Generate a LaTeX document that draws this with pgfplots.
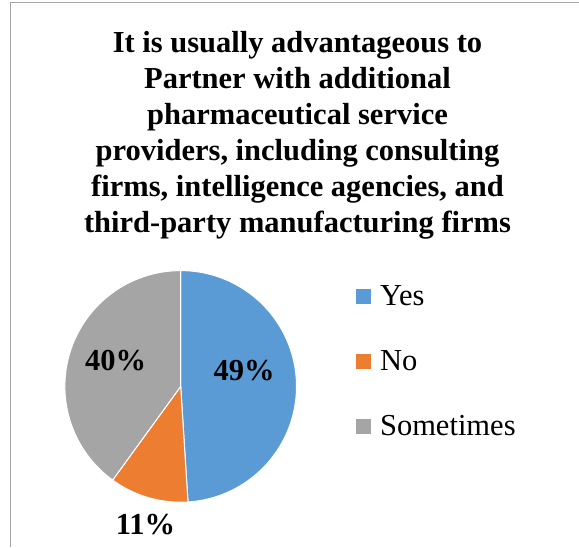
\documentclass[border=0pt]{standalone}
\usepackage{fontspec}
\setmainfont{Liberation Serif}
\usepackage{pgfplots}
\pgfplotsset{compat=1.18}
\definecolor{yesblue}{HTML}{5B9BD5}
\definecolor{noorange}{HTML}{ED7D31}
\definecolor{somegray}{HTML}{A5A5A5}
\definecolor{framegray}{HTML}{A6A6A6}
% shares in percent
\def\pYes{49}
\def\pNo{11}
\def\pSome{40}
\pgfmathsetmacro{\aA}{90}
\pgfmathsetmacro{\aB}{90-\pYes*3.6}
\pgfmathsetmacro{\aC}{\aB-\pNo*3.6}
\pgfmathsetmacro{\aD}{\aC-\pSome*3.6}
\newcommand\bigf{\fontsize{30.5}{36}\selectfont}
\begin{document}
\begin{tikzpicture}[x=1pt,y=1pt]
\path[use as bounding box] (0,0) rectangle (579,547);
\draw[framegray, line width=1pt] (10,0) -- (10,544) -- (579,544);
\begin{axis}[
  hide axis, scale only axis, clip=false,
  width=231.6pt, height=231.6pt,
  xmin=-1, xmax=1, ymin=-1, ymax=1,
  at={(180.7pt,160.6pt)}, anchor=center,
  legend style={draw=none, fill=none, font=\bigf, inner sep=0pt,
    at={(axis description cs:1.252,0.937)}, anchor=north west,
    row sep=43.5pt, column sep=8pt,
    nodes={inner sep=0pt}},
  legend cell align=left,
  legend image code/.code={\fill[#1] (0pt,-8pt) rectangle (16pt,8pt);},
]
\addplot[fill=yesblue, draw=white, line width=1pt, domain=\aB:\aA, samples=120, variable=\t] ({cos(\t)},{sin(\t)}) -- (axis cs:0,0) -- cycle;
\addlegendentry{Yes}
\addplot[fill=noorange, draw=white, line width=1pt, domain=\aC:\aB, samples=40, variable=\t] ({cos(\t)},{sin(\t)}) -- (axis cs:0,0) -- cycle;
\addlegendentry{No}
\addplot[fill=somegray, draw=white, line width=1pt, domain=\aD:\aC, samples=120, variable=\t] ({cos(\t)},{sin(\t)}) -- (axis cs:0,0) -- cycle;
\addlegendentry{Sometimes}
\end{axis}
\begin{scope}[every node/.style={font=\bigf\bfseries, inner sep=0pt, anchor=base}]
\node at (297.5,494) {It is usually advantageous to};
\node at (297.5,458) {Partner with additional};
\node at (297.5,422) {pharmaceutical service};
\node at (297.5,386) {providers, including consulting};
\node at (297.5,350) {firms, intelligence agencies, and};
\node at (297.5,314) {third-party manufacturing firms};
\node at (244,166) {49\%};
\node at (115.7,176) {40\%};
\node at (145.5,13) {11\%};
\end{scope}
\end{tikzpicture}
\end{document}
